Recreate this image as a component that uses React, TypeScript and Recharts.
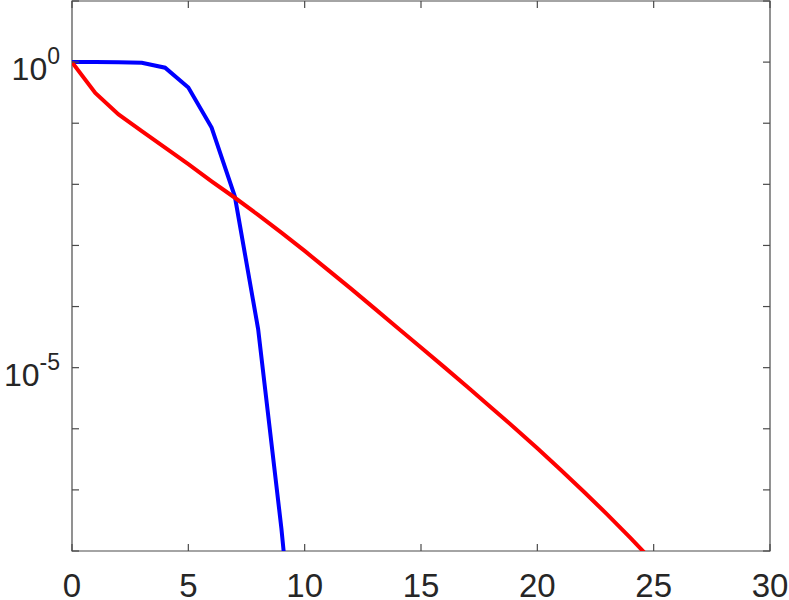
import React from 'react';
import { LineChart, Line, XAxis, YAxis, ReferenceArea } from 'recharts';

// data (y on a log scale)
const blueX = [0, 1, 2, 3, 4, 5, 6, 7, 8, 9, 10];
const blueY = [1, 1, 0.999, 0.977, 0.81, 0.383, 0.085, 6.3e-3, 4.27e-5, 2.34e-8, 3.2e-12];

const redX = [0, 1, 2, 3, 4, 5, 6, 7, 8, 9, 10, 11, 12, 13, 14, 15, 16, 17, 18, 19, 20, 21, 22, 23, 24, 25];
const redY = [
  1, 3.13e-1, 1.39e-1, 7.41e-2, 3.98e-2, 2.14e-2, 1.12e-2, 6.03e-3, 3.16e-3, 1.62e-3,
  8.13e-4, 3.98e-4, 1.95e-4, 9.33e-5, 4.47e-5, 2.14e-5, 1.02e-5, 4.84e-6, 2.26e-6, 1.05e-6,
  4.79e-7, 2.14e-7, 9.33e-8, 3.98e-8, 1.64e-8, 6.53e-9,
];

const xTicks = [0, 5, 10, 15, 20, 25, 30];
const yTicks = [1e-8, 1e-7, 1e-6, 1e-5, 1e-4, 1e-3, 1e-2, 1e-1, 1, 10];
const yLabelled = [1, 1e-5];

const blueData = blueX.map((x, i) => ({ x, y: blueY[i] }));
const redData = redX.map((x, i) => ({ x, y: redY[i] }));

const W = 789;
const H = 600;
const M = { top: 1, right: 19, bottom: 0, left: 0 };
const YW = 72;
const XH = 49;
const PL = M.left + YW;
const PR = W - M.right;
const PT = M.top;
const PB = H - M.bottom - XH;
const TL = 7;
const AX = '#4a4a4a';
const TXT = '#262626';
const FONT = '"Liberation Sans", Arial, Helvetica, sans-serif';

const XTick = (props: any) => {
  const { x, payload } = props;
  return (
    <g>
      <line x1={x} x2={x} y1={PB} y2={PB - TL} stroke={AX} strokeWidth={1.2} />
      <line x1={x} x2={x} y1={PT} y2={PT + TL} stroke={AX} strokeWidth={1.2} />
      <text x={x} y={597} textAnchor="middle" fontSize={33} fontFamily={FONT} fill={TXT}>
        {payload.value}
      </text>
    </g>
  );
};

const YTick = (props: any) => {
  const { y, payload } = props;
  const v = payload.value;
  const exp = Math.round(Math.log10(v));
  const show = yLabelled.some((t) => Math.abs(Math.log10(t) - Math.log10(v)) < 1e-6);
  return (
    <g>
      <line x1={PL} x2={PL + TL} y1={y} y2={y} stroke={AX} strokeWidth={1.2} />
      <line x1={PR} x2={PR - TL} y1={y} y2={y} stroke={AX} strokeWidth={1.2} />
      {show && (
        <text x={60} y={y + 18} textAnchor="end" fontSize={32} fontFamily={FONT} fill={TXT}>
          10
          <tspan dy={-16} fontSize={23}>
            {exp}
          </tspan>
        </text>
      )}
    </g>
  );
};

export default function App() {
  return (
    <div style={{ position: 'absolute', left: 0, top: 0, background: '#fff' }}>
      <LineChart width={W} height={H} margin={M}>
        <XAxis
          dataKey="x"
          type="number"
          domain={[0, 30]}
          ticks={xTicks}
          interval={0}
          height={XH}
          tick={<XTick />}
          tickLine={false}
          axisLine={false}
          allowDataOverflow
        />
        <YAxis
          dataKey="y"
          type="number"
          scale="log"
          domain={[1e-8, 10]}
          ticks={yTicks}
          interval={0}
          width={YW}
          tick={<YTick />}
          tickLine={false}
          axisLine={false}
          allowDataOverflow
        />
        <ReferenceArea
          x1={0}
          x2={30}
          y1={1e-8}
          y2={10}
          fill="none"
          fillOpacity={0}
          stroke={AX}
          strokeWidth={1.2}
          ifOverflow="visible"
        />
        <Line
          data={blueData}
          dataKey="y"
          stroke="#0000ff"
          strokeWidth={4}
          dot={false}
          isAnimationActive={false}
          type="linear"
        />
        <Line
          data={redData}
          dataKey="y"
          stroke="#ff0000"
          strokeWidth={4}
          dot={false}
          isAnimationActive={false}
          type="linear"
        />
      </LineChart>
    </div>
  );
}
